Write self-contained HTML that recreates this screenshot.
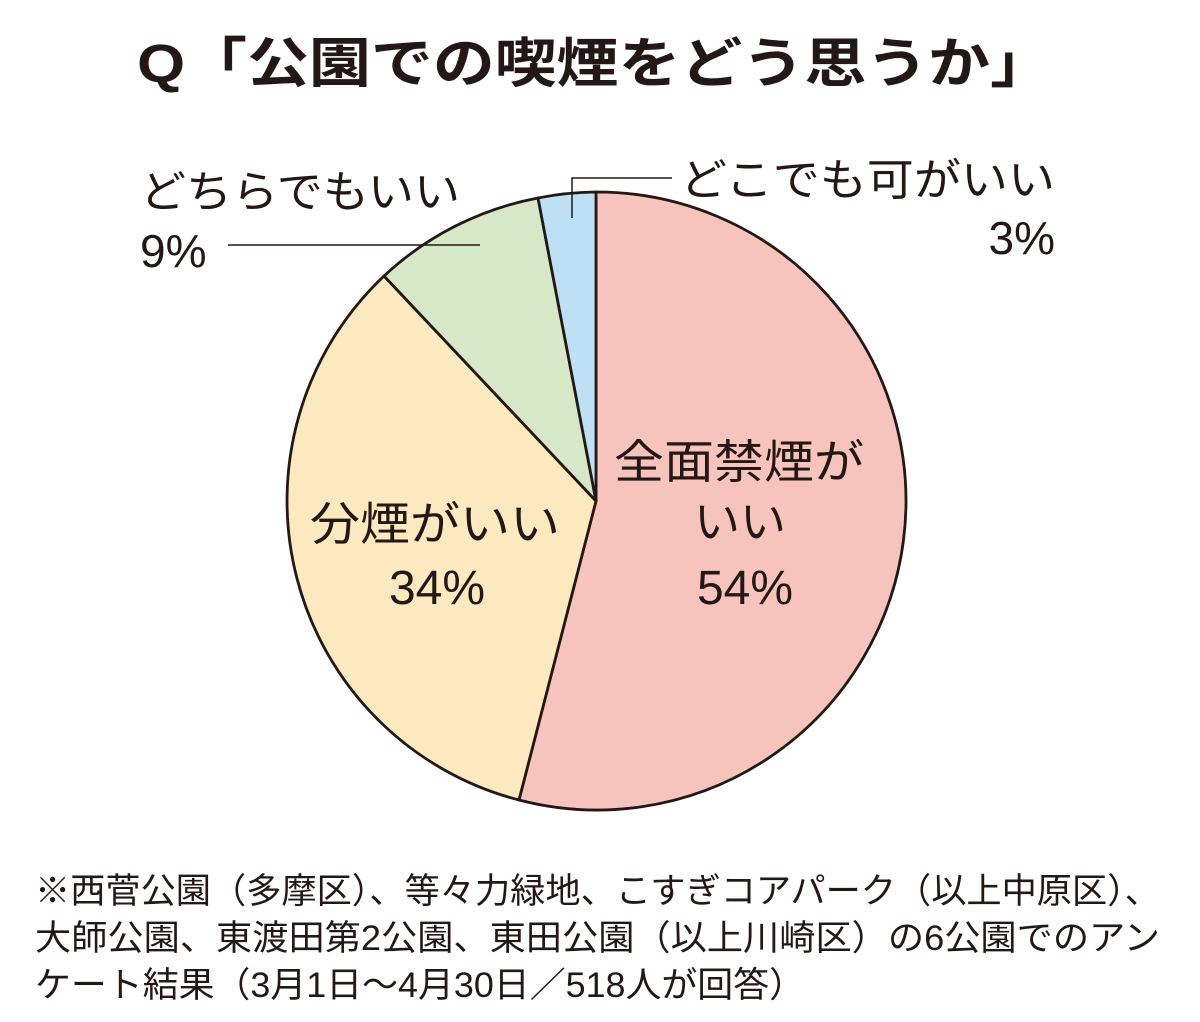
<!DOCTYPE html>
<html><head><meta charset="utf-8"><style>
html,body{margin:0;padding:0;background:#fff;}
svg{display:block;}
text{font-family:"Liberation Sans","Noto Sans CJK JP",sans-serif;fill:#231815;}
</style></head><body>
<svg width="1200" height="1022" viewBox="0 0 1200 1022">
<text x="137" y="82" font-size="54" font-weight="bold" textLength="915" lengthAdjust="spacingAndGlyphs">Q「公園での喫煙をどう思うか」</text>
<g stroke="#231815" stroke-width="2.8" stroke-linejoin="round">
<path d="M596,501 L596,192 A309,309 0 1,1 519,800 Z" fill="#f7c4bd"/>
<path d="M596,501 L519,800 A309,309 0 0,1 384,276 Z" fill="#fde9bf"/>
<path d="M596,501 L384,276 A309,309 0 0,1 538,198 Z" fill="#d7e8c8"/>
<path d="M596,501 L538,198 A309,309 0 0,1 596,192 Z" fill="#bde0f5"/>
</g>
<g stroke="#231815" stroke-width="1.5" fill="none">
<polyline points="572,218 572,178 672,178"/>
<line x1="228" y1="245" x2="480" y2="245"/>
</g>
<text x="680" y="195" font-size="44" textLength="375" lengthAdjust="spacingAndGlyphs">どこでも可がいい</text>
<text x="1055" y="254" font-size="46" text-anchor="end">3%</text>
<text x="140" y="207" font-size="44" textLength="320" lengthAdjust="spacingAndGlyphs">どちらでもいい</text>
<text x="140" y="267" font-size="46">9%</text>
<text x="310" y="540" font-size="46" textLength="250" lengthAdjust="spacingAndGlyphs">分煙がいい</text>
<text x="437" y="604" font-size="48" text-anchor="middle">34%</text>
<text x="614" y="478" font-size="46" textLength="250" lengthAdjust="spacingAndGlyphs">全面禁煙が</text>
<text x="740" y="538" font-size="46" text-anchor="middle">いい</text>
<text x="745" y="604" font-size="48" text-anchor="middle">54%</text>
<text x="35" y="903" font-size="35" textLength="1125" lengthAdjust="spacingAndGlyphs">※西菅公園（多摩区）、等々力緑地、こすぎコアパーク（以上中原区）、</text>
<text x="35" y="950" font-size="35" textLength="1125" lengthAdjust="spacingAndGlyphs">大師公園、東渡田第2公園、東田公園（以上川崎区）の6公園でのアン</text>
<text x="35" y="997" font-size="35" textLength="770" lengthAdjust="spacingAndGlyphs">ケート結果（3月1日～4月30日／518人が回答）</text>
</svg>
</body></html>
